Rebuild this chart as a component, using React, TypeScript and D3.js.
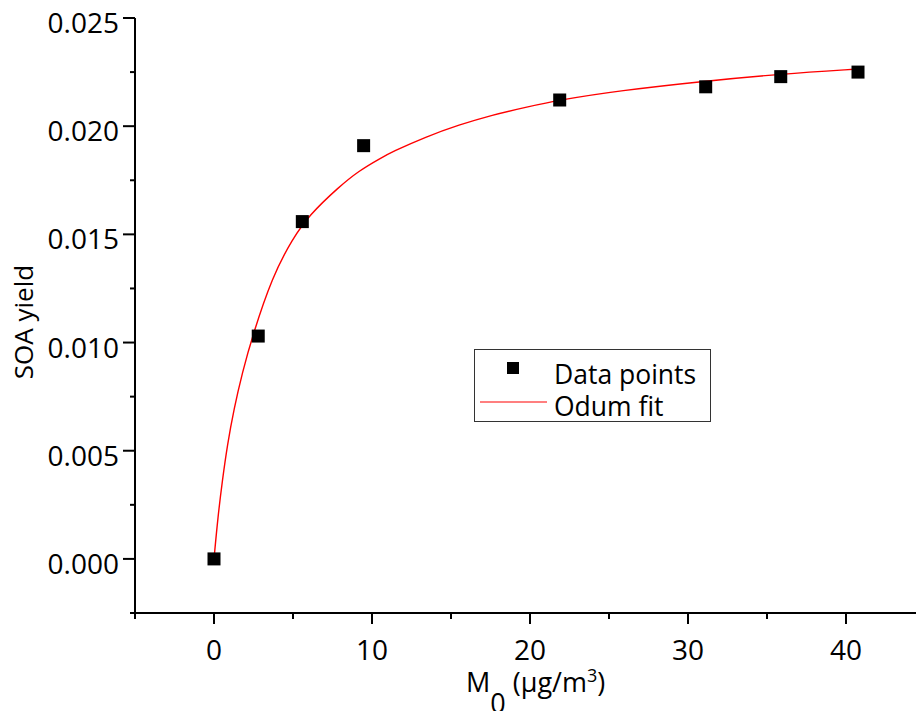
import React from "react";
import * as d3 from "d3";

const pointsX = [0, 2.8, 5.59, 9.47, 21.88, 31.12, 35.87, 40.76];
const pointsY = [0, 0.0103, 0.01559, 0.0191, 0.02121, 0.02182, 0.02229, 0.0225];

const fitX = [0, 0.25, 0.53, 0.84, 1.27, 1.79, 2.43, 3.69, 4.96, 6.01, 7.91, 9.18, 10.44, 11.29, 13.4, 15.51, 17.61, 19.72, 21.84, 25.63, 31.12, 35.87, 40.72];
const fitY = [0, 0.00196, 0.00362, 0.00525, 0.00695, 0.0086, 0.0103, 0.01305, 0.01478, 0.01588, 0.0172, 0.01794, 0.01848, 0.01882, 0.01951, 0.02006, 0.02052, 0.02087, 0.02121, 0.02164, 0.02209, 0.02241, 0.02264];

const xMajor = [0, 10, 20, 30, 40];
const xMinor = [-5, 5, 15, 25, 35];
const yMajor = [0, 0.005, 0.01, 0.015, 0.02, 0.025];
const yMinor = [-0.0025, 0.0025, 0.0075, 0.0125, 0.0175, 0.0225];

const legendLabels = ["Data points", "Odum fit"];

const W = 916;
const H = 711;
const FONT = "'Open Sans', sans-serif";

export default function App() {
  const x = d3.scaleLinear().domain([-5, 45]).range([135, 925]);
  const y = d3.scaleLinear().domain([-0.0025, 0.025]).range([613, 18]);
  const fmt = d3.format(".3f");

  const fitData = fitX.map((v, i) => [v, fitY[i]] as [number, number]);
  const line = d3
    .line<[number, number]>()
    .x((d) => x(d[0]))
    .y((d) => y(d[1]))
    .curve(d3.curveBasis);

  const axisY = y(-0.0025);
  const axisX = x(-5);
  const ms = 13;

  return (
    <svg
      width={W}
      height={H}
      style={{ position: "absolute", left: 0, top: 0, background: "#fff" }}
      fontFamily={FONT}
    >
      <rect x={0} y={0} width={W} height={H} fill="#fff" />
      {/* fit curve */}
      <path d={line(fitData) || ""} fill="none" stroke="#ff0000" strokeWidth={1.4} />
      {/* data points */}
      {pointsX.map((v, i) => (
        <rect
          key={i}
          x={x(v) - ms / 2}
          y={y(pointsY[i]) - ms / 2}
          width={ms}
          height={ms}
          fill="#000"
        />
      ))}
      {/* axes */}
      <line x1={axisX} x2={axisX} y1={y(0.025)} y2={axisY} stroke="#000" strokeWidth={2} />
      <line x1={axisX} x2={W} y1={axisY} y2={axisY} stroke="#000" strokeWidth={2} />
      {yMajor.map((v) => (
        <g key={"ym" + v}>
          <line x1={axisX - 12} x2={axisX} y1={y(v)} y2={y(v)} stroke="#000" strokeWidth={2} />
          <text x={119} y={y(v) + 15} textAnchor="end" fontSize={28} fill="#000">
            {fmt(v)}
          </text>
        </g>
      ))}
      {yMinor.map((v) => (
        <line key={"yn" + v} x1={axisX - 5} x2={axisX} y1={y(v)} y2={y(v)} stroke="#000" strokeWidth={2} />
      ))}
      {xMajor.map((v) => (
        <g key={"xm" + v}>
          <line x1={x(v)} x2={x(v)} y1={axisY} y2={axisY + 11} stroke="#000" strokeWidth={2} />
          <text x={x(v)} y={660} textAnchor="middle" fontSize={28} fill="#000">
            {v}
          </text>
        </g>
      ))}
      {xMinor.map((v) => (
        <line key={"xn" + v} x1={x(v)} x2={x(v)} y1={axisY} y2={axisY + 6} stroke="#000" strokeWidth={2} />
      ))}
      {/* axis titles */}
      <text
        transform={`translate(33, 322) rotate(-90)`}
        textAnchor="middle"
        fontSize={26}
        fill="#000"
      >
        SOA yield
      </text>
      <text x={466} y={692} fontSize={27} fill="#000">
        M
        <tspan dy={21} fontSize={27}>0</tspan>
        <tspan dy={-21}> (µg/m</tspan>
        <tspan dy={-10} fontSize={18}>3</tspan>
        <tspan dy={10}>)</tspan>
      </text>
      {/* legend */}
      <rect x={474.5} y={349.5} width={236} height={72} fill="#fff" stroke="#333" strokeWidth={1} />
      <rect x={513 - 6} y={368 - 6} width={12} height={12} fill="#000" />
      <line x1={480} x2={547} y1={402} y2={402} stroke="#ff0000" strokeWidth={1.2} />
      <text x={554} y={384} fontSize={26.5} fill="#000">
        {legendLabels[0]}
      </text>
      <text x={554} y={416} fontSize={26.5} fill="#000">
        {legendLabels[1]}
      </text>
    </svg>
  );
}
